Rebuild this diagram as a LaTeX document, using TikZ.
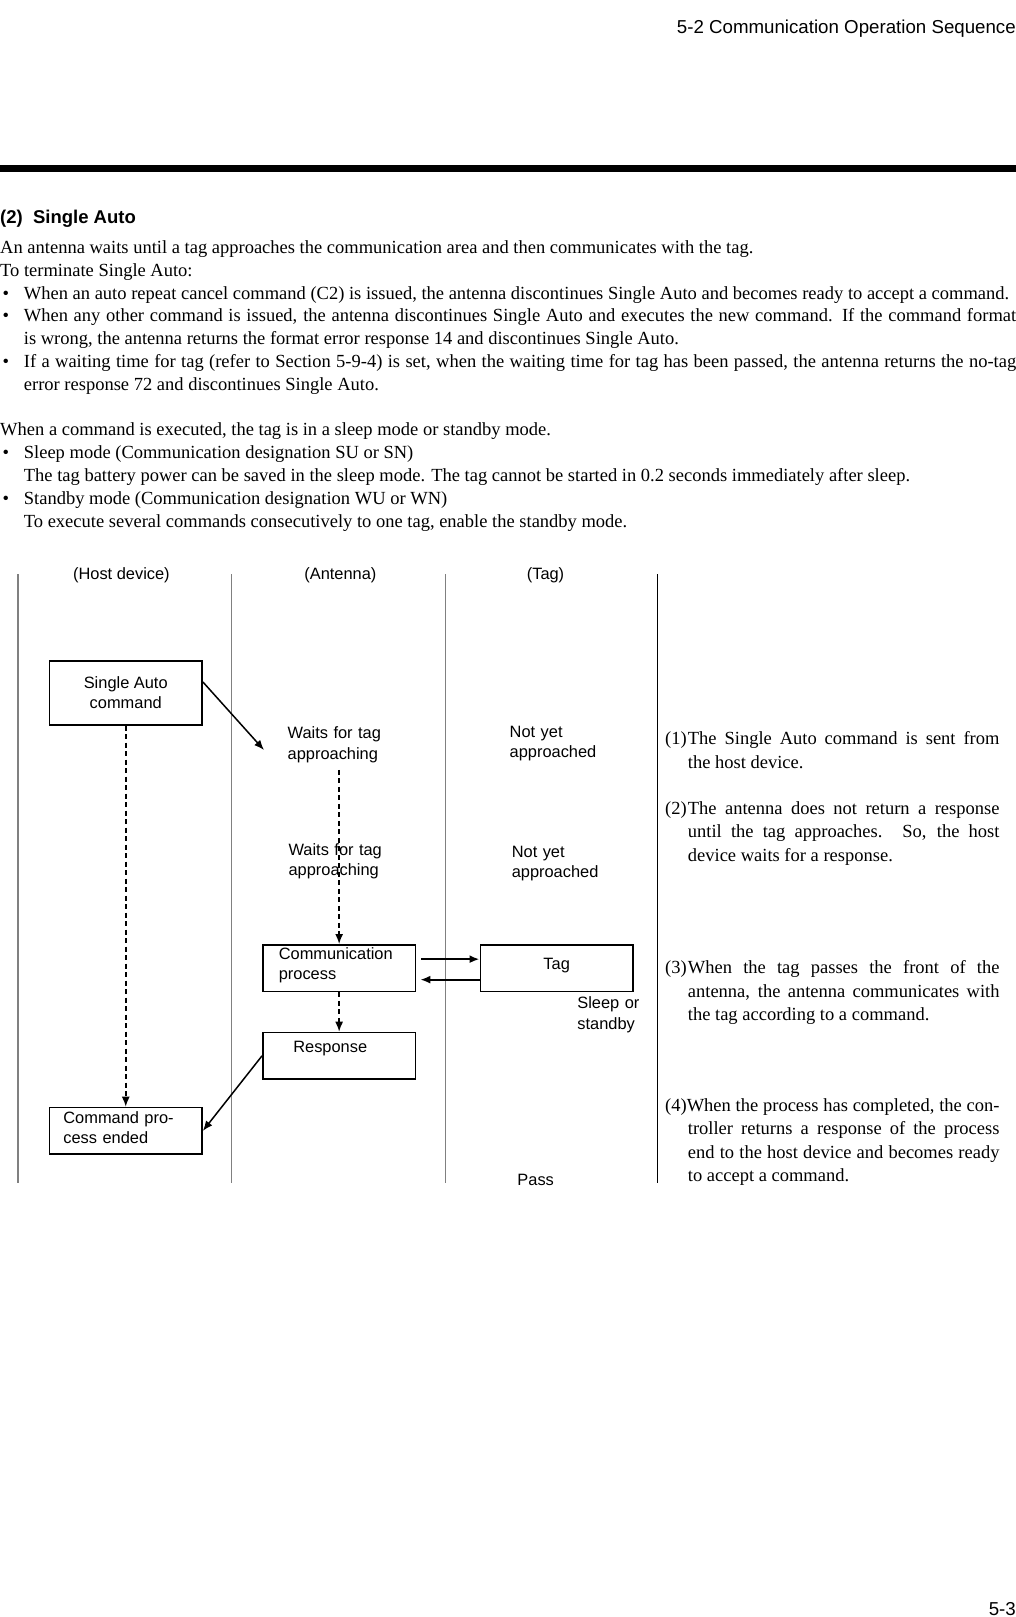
\documentclass[tikz,border=0pt]{standalone}
\usepackage{fontspec}
\setmainfont{Liberation Serif}
\setsansfont{Liberation Sans}
\usetikzlibrary{arrows.meta}

\hyphenpenalty=10000
\exhyphenpenalty=10000

\newcommand{\bodyfont}{\fontsize{18.5}{22.9}\selectfont}
\newcommand{\notefont}{\fontsize{18.5}{23.3}\selectfont}
\newcommand{\labfont}{\sffamily\fontsize{16.4}{20.6}\selectfont}
\newcommand{\bul}[1]{\par\hangindent=23.7pt\hangafter=1\noindent\makebox[23.7pt][l]{\hspace{2.5pt}\textbullet}#1}

\begin{document}
\begin{tikzpicture}[x=1pt, y=-1pt,
  every node/.style={inner sep=0pt},
  box/.style={draw, line width=1.6pt, minimum width=152.7pt, minimum height=46.7pt, font=\labfont},
  lbl/.style={anchor=base west, text width=100pt, align=left, font=\labfont},
  note/.style={anchor=base west, text width=334.3pt, align=justify, font=\notefont},
  lane/.style={line width=1.3pt, black!50},
  flow/.style={line width=1.5pt, -{Latex[length=10pt,width=8pt]}},
  wait/.style={flow, dash pattern=on 5pt off 3.5pt}]
  \useasboundingbox (0,0) rectangle (1016,1617);

  % page head
  \node[anchor=base east, font=\sffamily\fontsize{18.7}{22}\selectfont] (head) at (1016,33.4) {5-2 Communication Operation Sequence};
  \fill (0,165) rectangle (1016,171.7);
  \node[anchor=base west, font=\sffamily\bfseries\fontsize{18.5}{22}\selectfont] (title) at (0,223.4) {(2)\ \ Single Auto};

  % description
  \node[anchor=base west, text width=1016pt, align=justify, font=\bodyfont] (intro) at (0,253.2) {%
    An antenna waits until a tag approaches the communication area and then communicates with the tag.\par
    To terminate Single Auto:
    \bul{When an auto repeat cancel command (C2) is issued, the antenna discontinues Single Auto and becomes ready to accept a command.}
    \bul{When any other command is issued, the antenna discontinues Single Auto and executes the new command.  If the command format\linebreak is wrong, the antenna returns the format error response 14 and discontinues Single Auto.}
    \bul{If a waiting time for tag (refer to Section 5-9-4) is set, when the waiting time for tag has been passed, the antenna returns the no-tag\linebreak error response 72 and discontinues Single Auto.}\par};
  \node[anchor=base west, text width=1016pt, align=justify, font=\bodyfont] (modes) at (0,435.6) {%
    When a command is executed, the tag is in a sleep mode or standby mode.
    \bul{Sleep mode (Communication designation SU or SN)\\The tag battery power can be saved in the sleep mode.  The tag cannot be started in 0.2 seconds immediately after sleep.}
    \bul{Standby mode (Communication designation WU or WN)\\To execute several commands consecutively to one tag, enable the standby mode.}\par};

  % lanes
  \foreach \x in {18,231.5,445.5}
    \draw[lane] (\x,574) -- (\x,1182.7);
  \draw[line width=1pt] (657,574) -- (657,1182.7);
  \node[anchor=base, font=\labfont] (hhost) at (121.4,579.8) {(Host device)};
  \node[anchor=base, font=\labfont] (hant) at (340.4,579.8) {(Antenna)};
  \node[anchor=base, font=\labfont] (htag) at (545.5,579.8) {(Tag)};

  % boxes
  \node[box, anchor=north west, minimum height=64pt, align=center] (sa) at (48.6,660) {Single Auto\\command};
  \node[box, anchor=north west, text width=124.7pt, inner xsep=14pt, text depth=27pt, align=left] (done) at (48.6,1106.7) {Command pro-\\cess ended};
  \node[box, anchor=north west, text width=120.7pt, inner xsep=16pt, text depth=30pt, align=left] (comm) at (262,944) {Communication\\process};
  \node[box, anchor=north west, text width=91.7pt, inner xsep=30.5pt, text depth=18pt, align=left] (resp) at (262,1031.7) {Response};
  \node[box, anchor=north west, align=center, text depth=8pt] (tag) at (479.5,944) {Tag};

  % states
  \node[lbl] (wait1) at (287.5,738.7) {Waits for tag\\approaching};
  \node[lbl] (wait2) at (288.4,855.3) {Waits for tag\\approaching};
  \node[lbl] (far1) at (509.5,737) {Not yet\\approached};
  \node[lbl] (far2) at (511.6,857) {Not yet\\approached};
  \node[lbl] (sleep) at (577.2,1008.7) {Sleep or\\standby};
  \node[anchor=base, font=\labfont] (pass) at (535.7,1185.3) {Pass};

  % flow
  \coordinate (wtip) at (264,750);
  \draw[flow] (sa.8) -- (wtip);
  \draw[wait] (sa.south) -- (done.north);
  \draw[wait] ([yshift=-7pt]wait1.south -| comm.north) -- (comm.north);
  \draw[wait] (comm.south) -- (resp.north);
  \draw[flow, line width=2pt, shorten <=5pt] ([yshift=9pt]comm.east) -- ([yshift=9pt]tag.west);
  \draw[flow, line width=2pt, shorten >=4pt] ([yshift=-11.5pt]tag.west) -- ([yshift=-11.5pt]comm.east);
  \draw[flow] (resp.west) -- (done.east);

  % notes
  \node[note] (n1) at (665,744.8) {\hangindent=22.7pt\hangafter=1\noindent\makebox[22.7pt][l]{(1)}The Single Auto command is sent from\linebreak the host device.\par};
  \node[note] (n2) at (665,814.5) {\hangindent=22.7pt\hangafter=1\noindent\makebox[22.7pt][l]{(2)}The antenna does not return a response\linebreak until the tag approaches.  So, the host\linebreak device waits for a response.\par};
  \node[note] (n3) at (665,973.8) {\hangindent=22.7pt\hangafter=1\noindent\makebox[22.7pt][l]{(3)}When the tag passes the front of the\linebreak antenna, the antenna communicates with\linebreak the tag according to a command.\par};
  \node[note] (n4) at (665,1111.5) {\hangindent=22.7pt\hangafter=1\noindent(4)When the process has completed, the con-\linebreak troller returns a response of the process\linebreak end to the host device and becomes ready\linebreak to accept a command.\par};

  % page number
  \node[anchor=base east, font=\sffamily\fontsize{18.7}{22}\selectfont] (page) at (1016,1615.5) {5-3};
\end{tikzpicture}
\end{document}
